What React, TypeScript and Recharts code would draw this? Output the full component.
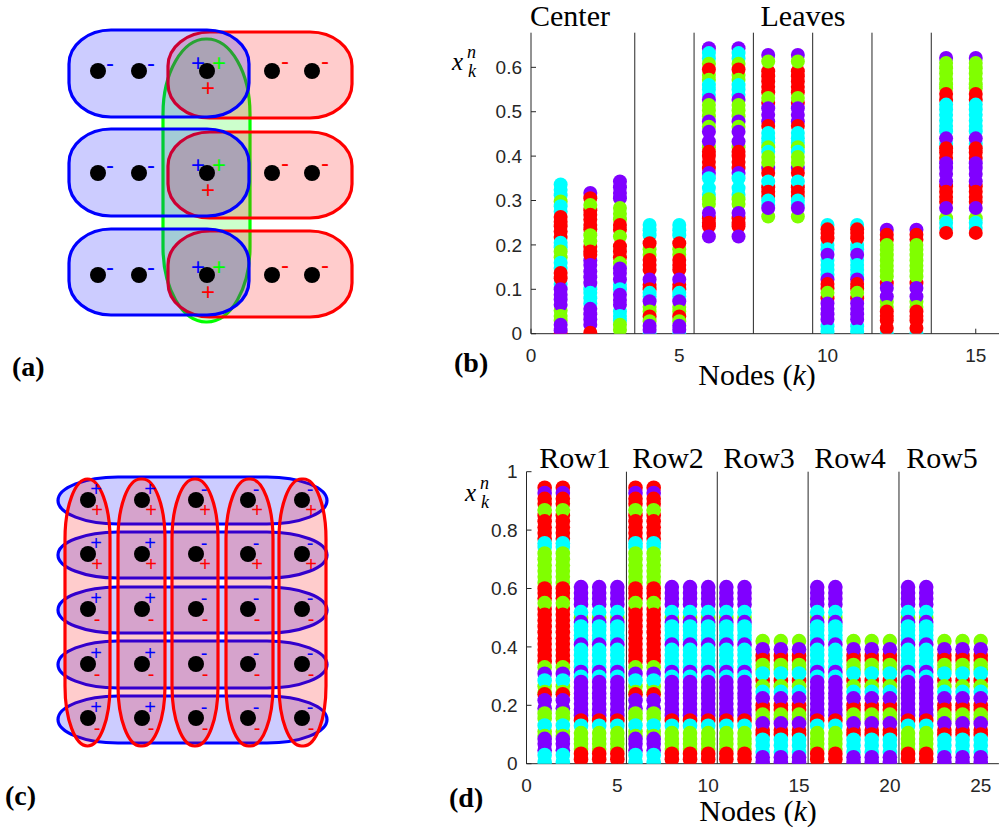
import { ScatterChart, Scatter, XAxis, YAxis, ReferenceArea, ReferenceLine } from 'recharts';

type Hue = 'r' | 'g' | 'c' | 'v';
type Dot = [number, Hue];

// marker colours (hsv(4) style)
const HUE: Record<string, string> = { r: '#ff0000', g: '#80ff00', c: '#00ffff', v: '#8000ff' };
const EDGE: Record<string, string> = { b: '#0000ff', r: '#ff0000', g: '#00ff00' };

// ---------- (a) hypergraph: three rows joined by a green edge ----------
const aColX = [98, 139, 207, 272, 312];
const aRowY = [71, 173, 275];
const aColSigns = [['b-'], ['b-'], ['b+', 'g+', 'r+'], ['r-'], ['r-']];
const aBlueX = [69, 249];
const aBlueRows = [[30, 117], [129, 216], [229, 315]];
const aRedX = [168, 352];
const aRedRows = [[32, 118], [132, 218], [231, 317]];
const aGreenX = [163, 250];
const aGreenY = [39, 322];

// ---------- (c) 5x5 grid hypergraph ----------
const cColX = [88, 142, 196, 248, 302];
const cRowY = [80, 134, 189, 244, 298];
const cBlueSigns = ['+', '+', '-', '-', '-'];
const cRedSigns = ['+', '+', '-', '-', '-'];
const cBlueX = [58, 327];
const cBlueRows = [[57, 104], [112, 158], [167, 213], [221, 268], [276, 323]];
const cRedY = [59, 326];
const cRedCols = [[65, 110], [118, 165], [172, 218], [226, 273], [279, 326]];

// ---------- (b) node states, star hypergraph (drawing order matters) ----------
const bNode1: Dot[] = [
  [0.336, 'c'], [0.324, 'c'], [0.312, 'c'], [0.298, 'g'], [0.287, 'c'], [0.275, 'c'], [0.263, 'r'], [0.252, 'r'],
  [0.23, 'r'], [0.218, 'r'], [0.242, 'r'], [0.205, 'c'], [0.195, 'c'], [0.172, 'g'], [0.185, 'g'], [0.16, 'c'],
  [0.148, 'c'], [0.137, 'r'], [0.112, 'c'], [0.125, 'r'], [0.1, 'v'], [0.088, 'v'], [0.077, 'v'], [0.052, 'g'],
  [0.065, 'v'], [0.04, 'g'], [0.03, 'g'], [0, 'r'], [0.008, 'v'], [0.02, 'v'],
];
const bNode2: Dot[] = [
  [0.317, 'v'], [0.305, 'r'], [0.278, 'r'], [0.29, 'g'], [0.268, 'r'], [0.245, 'r'], [0.257, 'r'], [0.235, 'r'],
  [0.222, 'g'], [0.196, 'r'], [0.208, 'g'], [0.185, 'r'], [0.165, 'v'], [0.178, 'r'], [0.155, 'v'], [0.14, 'v'],
  [0.127, 'v'], [0.1, 'c'], [0.114, 'v'], [0.092, 'c'], [0.068, 'c'], [0.08, 'c'], [0.056, 'v'], [0.044, 'v'],
  [0.02, 'v'], [0.032, 'v'], [0.002, 'r'],
];
const bNode3: Dot[] = [
  [0.343, 'v'], [0.33, 'v'], [0.317, 'v'], [0.305, 'v'], [0.27, 'g'], [0.283, 'g'], [0.258, 'g'], [0.245, 'r'],
  [0.234, 'r'], [0.219, 'g'], [0.185, 'r'], [0.197, 'r'], [0.172, 'r'], [0.159, 'g'], [0.147, 'v'], [0.137, 'v'],
  [0.11, 'c'], [0.122, 'v'], [0.1, 'c'], [0.088, 'v'], [0.076, 'v'], [0.05, 'c'], [0.065, 'v'], [0.04, 'c'],
  [0.03, 'c'], [0.02, 'g'], [0.009, 'g'],
];
const bPair45: Dot[] = [
  [0.245, 'c'], [0.233, 'c'], [0.222, 'c'], [0.19, 'g'], [0.204, 'r'], [0.178, 'g'], [0.166, 'r'], [0.155, 'r'],
  [0.144, 'r'], [0.11, 'r'], [0.122, 'v'], [0.1, 'r'], [0.092, 'c'], [0.084, 'c'], [0.06, 'g'], [0.073, 'v'],
  [0.05, 'g'], [0.039, 'r'], [0, 'c'], [0.028, 'g'], [0.018, 'v'], [0.009, 'v'],
];
const bPair67: Dot[] = [
  [0.643, 'v'], [0.632, 'c'], [0.62, 'c'], [0.608, 'g'], [0.583, 'g'], [0.595, 'r'], [0.572, 'g'], [0.56, 'c'],
  [0.538, 'c'], [0.55, 'c'], [0.527, 'v'], [0.515, 'g'], [0.503, 'g'], [0.49, 'g'], [0.478, 'v'], [0.466, 'g'],
  [0.455, 'v'], [0.42, 'g'], [0.433, 'v'], [0.41, 'r'], [0.4, 'r'], [0.373, 'r'], [0.387, 'r'], [0.362, 'v'],
  [0.35, 'c'], [0.313, 'c'], [0.328, 'c'], [0.303, 'g'], [0.292, 'g'], [0.26, 'r'], [0.272, 'v'], [0.25, 'r'],
  [0.242, 'r'], [0.219, 'v'],
];
const bPair89: Dot[] = [
  [0.628, 'v'], [0.591, 'r'], [0.613, 'g'], [0.58, 'r'], [0.568, 'r'], [0.556, 'r'], [0.544, 'r'], [0.52, 'r'],
  [0.531, 'g'], [0.508, 'v'], [0.478, 'v'], [0.493, 'v'], [0.468, 'r'], [0.44, 'c'], [0.452, 'c'], [0.43, 'c'],
  [0.42, 'g'], [0.41, 'c'], [0.398, 'g'], [0.373, 'v'], [0.385, 'g'], [0.362, 'r'], [0.33, 'r'], [0.343, 'c'],
  [0.32, 'r'], [0.31, 'r'], [0.3, 'c'], [0.29, 'c'], [0.264, 'g'], [0.283, 'v'],
];
const bPair1011: Dot[] = [
  [0.245, 'c'], [0.235, 'r'], [0.227, 'r'], [0.2, 'c'], [0.215, 'r'], [0.19, 'c'], [0.166, 'c'], [0.178, 'v'],
  [0.155, 'c'], [0.144, 'c'], [0.133, 'c'], [0.122, 'v'], [0.112, 'r'], [0.102, 'r'], [0.08, 'r'], [0.092, 'g'],
  [0.068, 'v'], [0.056, 'v'], [0.044, 'v'], [0.017, 'c'], [0.032, 'v'], [0.005, 'c'],
];
const bPair1213: Dot[] = [
  [0.234, 'v'], [0.223, 'r'], [0.212, 'r'], [0.2, 'g'], [0.189, 'g'], [0.177, 'g'], [0.165, 'g'], [0.153, 'g'],
  [0.141, 'g'], [0.114, 'r'], [0.129, 'g'], [0.103, 'v'], [0.072, 'g'], [0.084, 'v'], [0.06, 'g'], [0.05, 'r'],
  [0.04, 'r'], [0, 'c'], [0.013, 'r'], [0.03, 'r'],
];
const bPair1415: Dot[] = [
  [0.621, 'v'], [0.61, 'g'], [0.598, 'g'], [0.586, 'g'], [0.574, 'g'], [0.562, 'g'], [0.553, 'g'], [0.54, 'r'],
  [0.527, 'r'], [0.516, 'c'], [0.505, 'c'], [0.48, 'c'], [0.493, 'c'], [0.468, 'c'], [0.456, 'c'], [0.428, 'c'],
  [0.44, 'v'], [0.418, 'r'], [0.408, 'r'], [0.396, 'r'], [0.373, 'v'], [0.384, 'v'], [0.36, 'v'], [0.332, 'r'],
  [0.343, 'v'], [0.32, 'r'], [0.308, 'r'], [0.297, 'r'], [0.26, 'g'], [0.283, 'v'], [0.25, 'c'], [0.238, 'c'],
  [0.227, 'r'],
];
const bColumns = [
  bNode1, bNode2, bNode3, bPair45, bPair45, bPair67, bPair67, bPair89, bPair89,
  bPair1011, bPair1011, bPair1213, bPair1213, bPair1415, bPair1415,
];
const bSeparators = [3.5, 5.5, 7.5, 9.5, 11.5, 13.5];
const bXTicks = [0, 5, 10, 15];
const bYTicks = [0, 0.1, 0.2, 0.3, 0.4, 0.5, 0.6];

// ---------- (d) node states, grid hypergraph ----------
const dTall: Dot[] = [
  [0.945, 'r'], [0.927, 'v'], [0.907, 'r'], [0.89, 'r'], [0.85, 'r'], [0.868, 'g'], [0.83, 'r'], [0.81, 'r'],
  [0.79, 'r'], [0.77, 'r'], [0.755, 'c'], [0.742, 'c'], [0.7, 'g'], [0.72, 'g'], [0.68, 'g'], [0.66, 'g'],
  [0.64, 'g'], [0.62, 'g'], [0.6, 'r'], [0.585, 'r'], [0.567, 'r'], [0.53, 'r'], [0.55, 'g'], [0.51, 'r'],
  [0.49, 'r'], [0.47, 'r'], [0.45, 'r'], [0.43, 'r'], [0.39, 'r'], [0.41, 'r'], [0.37, 'r'], [0.35, 'r'],
  [0.33, 'g'], [0.308, 'v'], [0.265, 'g'], [0.285, 'c'], [0.245, 'g'], [0.238, 'r'], [0.19, 'v'], [0.217, 'v'],
  [0.172, 'g'], [0.155, 'g'], [0.11, 'g'], [0.131, 'c'], [0.095, 'g'], [0.085, 'v'], [0.046, 'v'], [0.068, 'v'],
  [0.03, 'c'], [0.006, 'c'],
];
const dMid: Dot[] = [
  [0.605, 'v'], [0.585, 'v'], [0.565, 'v'], [0.545, 'v'], [0.5, 'g'], [0.519, 'c'], [0.485, 'v'], [0.47, 'c'],
  [0.44, 'c'], [0.458, 'c'], [0.425, 'c'], [0.408, 'v'], [0.39, 'c'], [0.35, 'c'], [0.371, 'c'], [0.33, 'c'],
  [0.314, 'v'], [0.298, 'c'], [0.28, 'v'], [0.26, 'v'], [0.24, 'v'], [0.225, 'v'], [0.185, 'v'], [0.205, 'v'],
  [0.165, 'v'], [0.148, 'r'], [0.13, 'c'], [0.085, 'g'], [0.105, 'g'], [0.068, 'g'], [0.05, 'g'], [0.034, 'r'],
  [0.015, 'r'],
];
const dLow: Dot[] = [
  [0.42, 'g'], [0.37, 'r'], [0.392, 'v'], [0.355, 'r'], [0.338, 'g'], [0.322, 'g'], [0.285, 'r'], [0.309, 'c'],
  [0.265, 'g'], [0.246, 'c'], [0.2, 'r'], [0.224, 'v'], [0.185, 'r'], [0.168, 'g'], [0.152, 'g'], [0.115, 'r'],
  [0.138, 'v'], [0.1, 'r'], [0.082, 'c'], [0.04, 'c'], [0.062, 'c'], [0.022, 'v'], [0.006, 'v'],
];
const dColumns = [
  dTall, dTall, dMid, dMid, dMid, dTall, dTall, dMid, dMid, dMid, dMid, dMid, dLow, dLow, dLow,
  dMid, dMid, dLow, dLow, dLow, dMid, dMid, dLow, dLow, dLow,
];
const dSeparators = [5.5, 10.5, 15.5, 20.5];
const dXTicks = [0, 5, 10, 15, 20, 25];
const dYTicks = [0, 0.2, 0.4, 0.6, 0.8, 1];
const dRowLabels = ['Row1', 'Row2', 'Row3', 'Row4', 'Row5'];

const toDots = (cols: Dot[][]) =>
  cols.flatMap((col, i) => col.map(([y, hue]) => ({ x: i + 1, y, hue })));

const SANS = "'Liberation Sans', Arial, sans-serif";
const SERIF = "'Liberation Serif', 'Times New Roman', serif";
const AXIS = '#262626';
const tickStyle = { fontFamily: SANS, fontSize: 19, fill: AXIS };

const roundRect = (rx: number, ry: number, color: string) => (p: any) => (
  <rect x={p.x} y={p.y} width={p.width} height={p.height} rx={rx} ry={ry}
    fill={color} fillOpacity={0.2} stroke={color} strokeWidth={3.2} />
);

const A_SIGN_OFFSET: Record<string, number[]> = {
  'b-': [12, -9], 'r-': [13, -11], 'b+': [-9, -9], 'g+': [12, -9], 'r+': [1, 16],
};

function signText(key: string, x: number, y: number, color: string, s: string, size: number) {
  return (
    <text key={key} x={x} y={y} fill={color} fontSize={size} fontFamily={SANS}
      textAnchor="middle" dominantBaseline="central">{s}</text>
  );
}

function PanelA() {
  const nodes = aRowY.flatMap((y) => aColX.map((x, i) => ({ x, y, signs: aColSigns[i] })));
  const node = (p: any) => (
    <g>
      <circle cx={p.cx} cy={p.cy} r={8} fill="#000" />
      {p.payload.signs.map((s: string) => {
        const [dx, dy] = A_SIGN_OFFSET[s];
        return signText(s, p.cx + dx, p.cy + dy, EDGE[s[0]], s[1], 24);
      })}
    </g>
  );
  return (
    <ScatterChart width={440} height={400} margin={{ top: 0, right: 0, bottom: 0, left: 0 }}>
      <XAxis type="number" dataKey="x" domain={[0, 440]} hide height={0} />
      <YAxis type="number" dataKey="y" domain={[0, 400]} reversed hide width={0} />
      <ReferenceArea x1={aGreenX[0]} x2={aGreenX[1]} y1={aGreenY[0]} y2={aGreenY[1]}
        shape={roundRect(43, 75, EDGE.g)} />
      {aRedRows.map(([y1, y2], i) => (
        <ReferenceArea key={'r' + i} x1={aRedX[0]} x2={aRedX[1]} y1={y1} y2={y2}
          shape={roundRect(42, 34, EDGE.r)} />
      ))}
      {aBlueRows.map(([y1, y2], i) => (
        <ReferenceArea key={'b' + i} x1={aBlueX[0]} x2={aBlueX[1]} y1={y1} y2={y2}
          shape={roundRect(42, 34, EDGE.b)} />
      ))}
      <Scatter data={nodes} shape={node} isAnimationActive={false} />
    </ScatterChart>
  );
}

function PanelC() {
  const nodes = cRowY.flatMap((y, r) =>
    cColX.map((x, c) => ({ x, y, blue: cBlueSigns[c], red: cRedSigns[r] })));
  const node = (p: any) => (
    <g>
      <circle cx={p.cx} cy={p.cy} r={8} fill="#000" />
      {signText('b', p.cx + 8, p.cy - 11, EDGE.b, p.payload.blue, 20)}
      {signText('r', p.cx + 9, p.cy + 10, EDGE.r, p.payload.red, 20)}
    </g>
  );
  return (
    <ScatterChart width={440} height={412} margin={{ top: 0, right: 0, bottom: 0, left: 0 }}>
      <XAxis type="number" dataKey="x" domain={[0, 440]} hide height={0} />
      <YAxis type="number" dataKey="y" domain={[0, 412]} reversed hide width={0} />
      {cBlueRows.map(([y1, y2], i) => (
        <ReferenceArea key={'b' + i} x1={cBlueX[0]} x2={cBlueX[1]} y1={y1} y2={y2}
          shape={roundRect(60, 23.5, EDGE.b)} />
      ))}
      {cRedCols.map(([x1, x2], i) => (
        <ReferenceArea key={'r' + i} x1={x1} x2={x2} y1={cRedY[0]} y2={cRedY[1]}
          shape={roundRect(22.5, 60, EDGE.r)} />
      ))}
      <Scatter data={nodes} shape={node} isAnimationActive={false} />
    </ScatterChart>
  );
}

type StateProps = {
  columns: Dot[][];
  xDomain: number[];
  yDomain: number[];
  xTicks: number[];
  yTicks: number[];
  separators: number[];
  radius: number;
  width: number;
  height: number;
  margin: { top: number; right: number; bottom: number; left: number };
  yAxisWidth: number;
  xAxisHeight: number;
};

function StatePlot(props: StateProps) {
  const dots = toDots(props.columns);
  const r = props.radius;
  return (
    <ScatterChart width={props.width} height={props.height} margin={props.margin}>
      <XAxis type="number" dataKey="x" domain={props.xDomain} ticks={props.xTicks} allowDataOverflow
        height={props.xAxisHeight} tick={tickStyle} tickSize={-5} tickMargin={20}
        axisLine={{ stroke: AXIS }} tickLine={{ stroke: AXIS }} />
      <YAxis type="number" dataKey="y" domain={props.yDomain} ticks={props.yTicks} allowDataOverflow
        width={props.yAxisWidth} tick={tickStyle} tickSize={-5} tickMargin={14}
        axisLine={{ stroke: AXIS }} tickLine={{ stroke: AXIS }} />
      {props.separators.map((s) => (
        <ReferenceLine key={s} x={s} stroke={AXIS} strokeWidth={1} />
      ))}
      <Scatter data={dots} isAnimationActive={false}
        shape={(p: any) => <circle cx={p.cx} cy={p.cy} r={r} fill={HUE[p.payload.hue]} />} />
    </ScatterChart>
  );
}

function XKN({ x, y }: { x: number; y: number }) {
  return (
    <g fontStyle="italic">
      <text x={x} y={y} fontSize={25}>x</text>
      <text x={x + 15} y={y - 12} fontSize={18}>n</text>
      <text x={x + 16} y={y + 7} fontSize={18}>k</text>
    </g>
  );
}

export default function App() {
  return (
    <div style={{ position: 'absolute', left: 0, top: 0, width: 999, height: 832, overflow: 'hidden', background: '#fff' }}>
      <div style={{ position: 'absolute', left: 0, top: 0 }}>
        <PanelA />
      </div>
      <div style={{ position: 'absolute', left: 0, top: 420 }}>
        <PanelC />
      </div>
      <div style={{ position: 'absolute', left: 440, top: 0 }}>
        <StatePlot columns={bColumns} xDomain={[0, 16]} yDomain={[0, 0.678]} xTicks={bXTicks} yTicks={bYTicks}
          separators={bSeparators} radius={7} width={570} height={400}
          margin={{ top: 32.7, right: 4.6, bottom: 0, left: 0 }} yAxisWidth={91} xAxisHeight={66.3} />
      </div>
      <div style={{ position: 'absolute', left: 440, top: 420 }}>
        <StatePlot columns={dColumns} xDomain={[0, 26]} yDomain={[0, 1]} xTicks={dXTicks} yTicks={dYTicks}
          separators={dSeparators} radius={7.3} width={570} height={412}
          margin={{ top: 51.7, right: 11.1, bottom: 0, left: 0 }} yAxisWidth={86.5} xAxisHeight={68.3} />
      </div>
      <svg width={999} height={832} style={{ position: 'absolute', left: 0, top: 0, pointerEvents: 'none' }}
        fontFamily={SERIF} fill="#000">
        <text x={570} y={26} fontSize={30} textAnchor="middle">Center</text>
        <text x={803} y={26} fontSize={30} textAnchor="middle">Leaves</text>
        {dRowLabels.map((t, i) => (
          <text key={t} x={[575, 668, 759, 850, 942][i]} y={468} fontSize={30} textAnchor="middle">{t}</text>
        ))}
        <XKN x={452} y={70} />
        <XKN x={465} y={501} />
        <text x={757} y={385} fontSize={30} textAnchor="middle">Nodes (<tspan fontStyle="italic">k</tspan>)</text>
        <text x={758} y={821} fontSize={30} textAnchor="middle">Nodes (<tspan fontStyle="italic">k</tspan>)</text>
        <text x={12} y={376} fontSize={28} fontWeight="bold">(a)</text>
        <text x={454} y={372} fontSize={28} fontWeight="bold">(b)</text>
        <text x={5} y={805} fontSize={28} fontWeight="bold">(c)</text>
        <text x={449} y={807} fontSize={28} fontWeight="bold">(d)</text>
      </svg>
    </div>
  );
}
